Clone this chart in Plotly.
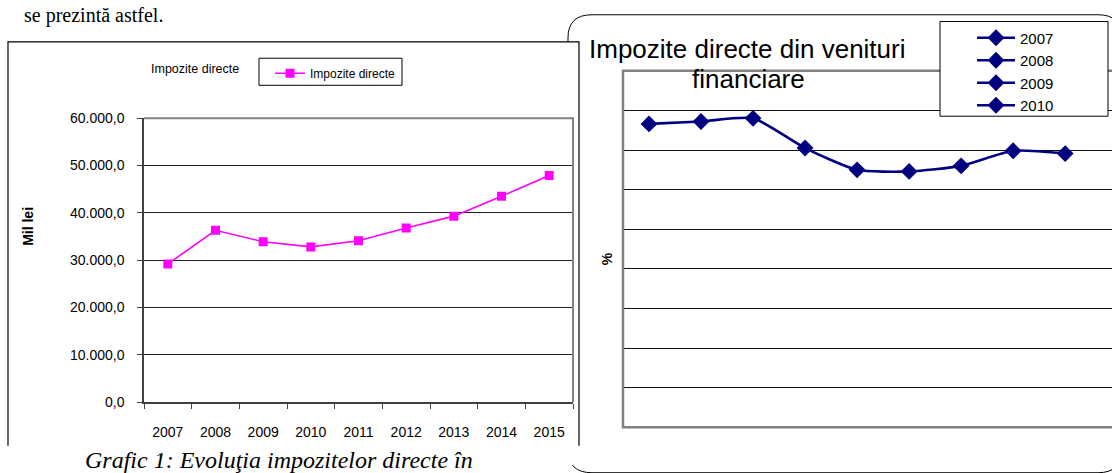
import plotly.graph_objects as go

W, H = 1112, 473

# Left chart: direct taxes, million lei
years = ["2007", "2008", "2009", "2010", "2011", "2012", "2013", "2014", "2015"]
impozite_directe = [29200, 36300, 33900, 32800, 34100, 36800, 39300, 43500, 47900]
left_ticks = [0, 10000, 20000, 30000, 40000, 50000, 60000]

# Right chart: direct taxes from financial income, %
fin_points = [1, 2, 3, 4, 5, 6, 7, 8, 9]
fin_share = [7.66, 7.72, 7.80, 7.05, 6.50, 6.46, 6.60, 6.98, 6.91]
legend_years = ["2007", "2008", "2009", "2010"]

SANS = "Liberation Sans, Arial, sans-serif"
SERIF = "Liberation Serif, Times New Roman, serif"
NAVY = "#000080"
MAGENTA = "#FF00FF"


def px(x):
    return x / W


def py(y):
    return 1 - y / H


def path(points, close=False):
    parts = []
    for cmd, *vals in points:
        coords = []
        for i in range(0, len(vals), 2):
            coords.append(f"{px(vals[i]):.5f},{py(vals[i + 1]):.5f}")
        parts.append(cmd + " ".join(coords))
    s = " ".join(parts)
    return s + (" Z" if close else "")


def box(x0, y0, x1, y1, **kw):
    return dict(type="rect", xref="paper", yref="paper",
                x0=px(x0), x1=px(x1), y0=py(y1), y1=py(y0), **kw)


fig = go.Figure()

fig.add_trace(go.Scatter(
    x=years, y=impozite_directe, name="Impozite directe",
    mode="lines+markers",
    line=dict(color=MAGENTA, width=1.6),
    marker=dict(symbol="square", size=9, color=MAGENTA),
    xaxis="x", yaxis="y", legend="legend",
))

for i, yr in enumerate(legend_years):
    fig.add_trace(go.Scatter(
        x=fin_points if i == 0 else [None],
        y=fin_share if i == 0 else [None],
        name=yr, mode="lines+markers",
        line=dict(color=NAVY, width=2.6, shape="spline", smoothing=0.6),
        marker=dict(symbol="diamond", size=13, color=NAVY),
        xaxis="x2", yaxis="y2", legend="legend2",
    ))

# Plot area positions (pixels)
L1, T1, R1, B1 = 144, 114, 573, 408
L2, T2, R2, B2 = 623, 65, 1112, 434

shapes = []
# rounded frame around the right chart
L, T, R, B, r = 568, 7, 1122, 481, 24
shapes.append(dict(
    type="path", xref="paper", yref="paper", layer="below",
    path=path([("M", L, T + r), ("Q", L, T, L + r, T), ("L", R - r, T),
               ("Q", R, T, R, T + r), ("L", R, B - r), ("Q", R, B, R - r, B),
               ("L", L + r, B), ("Q", L, B, L, B - r)], close=True),
    line=dict(color="black", width=1), fillcolor="white",
))
# white box of the left chart
shapes.append(box(8, 35, 579, 473, layer="below", line=dict(width=0), fillcolor="white"))
shapes.append(dict(
    type="path", xref="paper", yref="paper", layer="below",
    path=path([("M", 8, 453), ("L", 8, 35), ("L", 579, 35), ("L", 579, 453)]),
    line=dict(color="black", width=1.2),
))
# plot-area frames
shapes.append(dict(
    type="path", xref="paper", yref="paper", layer="above",
    path=path([("M", L1, T1), ("L", R1, T1), ("L", R1, B1)]),
    line=dict(color="#808080", width=2),
))
shapes.append(box(L2, T2, R2 + 5, B2, layer="above",
                  line=dict(color="#808080", width=2.5)))
# legend frames
shapes.append(box(259, 52, 402, 80, layer="above",
                  line=dict(color="black", width=1), fillcolor="white"))
shapes.append(box(940, 14, 1108, 112, layer="above",
                  line=dict(color="black", width=1), fillcolor="white"))

annotations = [
    dict(text="Impozite directe", x=px(195), y=py(63), xref="paper", yref="paper",
         xanchor="center", yanchor="middle", showarrow=False,
         font=dict(family=SANS, size=12.5, color="black")),
    dict(text="<b>Mil lei</b>", x=px(28.5), y=py(226), xref="paper", yref="paper",
         xanchor="center", yanchor="middle", showarrow=False, textangle=-90,
         font=dict(family=SANS, size=14, color="black")),
    dict(text="<b>%</b>", x=px(607), y=py(260), xref="paper", yref="paper",
         xanchor="center", yanchor="middle", showarrow=False, textangle=-90,
         font=dict(family=SANS, size=14, color="black")),
    dict(text="Impozite directe din venituri", x=px(747), y=py(42), xref="paper", yref="paper",
         xanchor="center", yanchor="middle", showarrow=False,
         font=dict(family=SANS, size=26, color="black")),
    dict(text="financiare", x=px(748), y=py(73), xref="paper", yref="paper",
         xanchor="center", yanchor="middle", showarrow=False,
         font=dict(family=SANS, size=26, color="black")),
    dict(text="se prezintă astfel.", x=px(22), y=py(22), xref="paper", yref="paper",
         xanchor="left", yanchor="bottom", showarrow=False,
         font=dict(family=SERIF, size=20, color="black")),
    dict(text="<i>Grafic 1: Evoluţia impozitelor directe în</i>", x=px(83), y=py(452),
         xref="paper", yref="paper", xanchor="left", yanchor="top", showarrow=False,
         font=dict(family=SERIF, size=24, color="black")),
]

fig.update_layout(
    width=W, height=H,
    margin=dict(l=0, r=0, t=0, b=0),
    paper_bgcolor="white", plot_bgcolor="#C0C0C0",
    separators=",.",
    showlegend=True,
    shapes=shapes, annotations=annotations,
    xaxis=dict(
        domain=[px(L1), px(R1)], anchor="y", type="category",
        range=[-0.5, 8.5], showgrid=False, zeroline=False,
        showline=True, linecolor="#404040", linewidth=1.5,
        ticks="outside", tickson="boundaries", ticklen=5, tickcolor="#404040",
        ticklabelstandoff=16,
        tickfont=dict(family=SANS, size=14, color="black"),
    ),
    yaxis=dict(
        domain=[py(B1), py(T1)], anchor="x",
        range=[0, 60000], tickvals=left_ticks, tickformat=",.1f",
        showgrid=True, gridcolor="#202020", gridwidth=1.2, zeroline=False,
        showline=True, linecolor="#404040", linewidth=1.5,
        ticks="outside", ticklen=5, tickcolor="#404040",
        ticklabelstandoff=10,
        tickfont=dict(family=SANS, size=14, color="black"),
    ),
    xaxis2=dict(
        domain=[px(L2), 1.0], anchor="y2",
        range=[0.5, 9.9], showgrid=False, zeroline=False,
        showticklabels=False, ticks="", showline=False,
    ),
    yaxis2=dict(
        domain=[py(B2), py(T2)], anchor="x2",
        range=[0, 9], dtick=1, showticklabels=False, ticks="",
        showgrid=True, gridcolor="#101010", gridwidth=1.3, zeroline=False,
        showline=False,
    ),
    legend=dict(
        x=px(270), y=py(52.5), xanchor="left", yanchor="top",
        bgcolor="rgba(0,0,0,0)", borderwidth=0,
        font=dict(family=SANS, size=12, color="black"),
        itemwidth=30, tracegroupgap=0,
    ),
    legend2=dict(
        x=px(972), y=py(14), xanchor="left", yanchor="top",
        bgcolor="rgba(0,0,0,0)", borderwidth=0,
        font=dict(family=SANS, size=15, color="black"),
        itemwidth=38, tracegroupgap=0,
    ),
)

fig.write_html("out.html")
